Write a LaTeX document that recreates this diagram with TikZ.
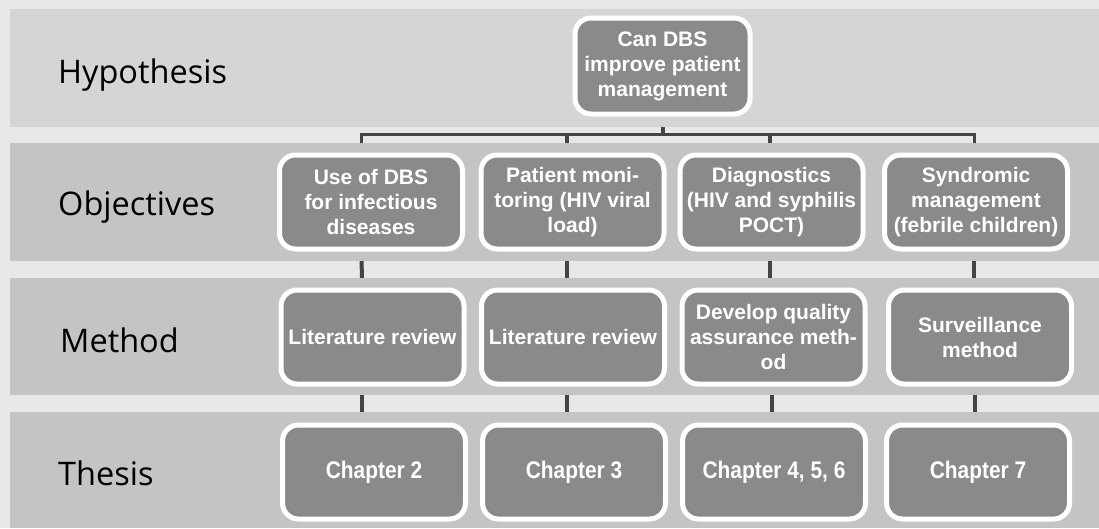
\documentclass[tikz,border=0pt]{standalone}
\usepackage{fontspec}
\setmainfont{Liberation Sans}
\newfontfamily\labelfont{Open Sans}
\newfontfamily\boxfont{Liberation Sans}
\newfontfamily\chapfont{Liberation Sans}[FakeStretch=0.87]
\definecolor{pagegray}{HTML}{E8E8E8}
\definecolor{hypband}{HTML}{D5D5D5}
\definecolor{bandgray}{HTML}{C4C4C4}
\definecolor{boxgray}{HTML}{8A8A8A}
\definecolor{linegray}{HTML}{444444}
\pgfdeclarelayer{pagebg}
\pgfdeclarelayer{lines}
\pgfdeclarelayer{bands}
\pgfsetlayers{pagebg,lines,bands,main}
\tikzset{
  box/.style={draw=white, line width=5pt, fill=boxgray, rounded corners=16pt,
    minimum width=183pt, minimum height=94pt, text=white, align=center, inner sep=2pt,
    font=\boxfont\bfseries\fontsize{21}{25}\selectfont},
  chapbox/.style={box, font=\chapfont\bfseries\fontsize{24}{28}\selectfont},
  lab/.style={anchor=base west, font=\labelfont\fontsize{32.5}{38}\selectfont, text=black},
  conn/.style={draw=linegray, line width=4pt},
}
\begin{document}
\begin{tikzpicture}[x=1pt,y=-1pt]
\useasboundingbox (0,0) rectangle (1099,528);
% labels
\node[lab, inner sep=0pt] (lh) at (58,83) {Hypothesis};
\node[lab, inner sep=0pt] (lo) at (58,215) {Objectives};
\node[lab, inner sep=0pt] (lm) at (60,352) {Method};
\node[lab, inner sep=0pt] (lt) at (58,485) {Thesis};
% hypothesis
\node[box, minimum width=175pt, minimum height=96pt] (h) at (662.5,66) {Can DBS\\improve patient\\management};
% objectives
\node[box] (o1) at (371,202) {Use of DBS\\for infectious\\diseases};
\node[box] (o2) at (572.5,202) {Patient moni-\\toring (HIV viral\\load)};
\node[box] (o3) at (771.5,202) {Diagnostics\\(HIV and syphilis\\POCT)};
\node[box] (o4) at (976,202) {Syndromic\\management\\(febrile children)};
% methods
\node[box] (m1) at (372.5,337) {Literature review};
\node[box] (m2) at (573,337) {Literature review};
\node[box] (m3) at (773.5,337) {Develop quality\\assurance meth-\\od};
\node[box] (m4) at (980,337) {Surveillance\\method};
% thesis
\node[chapbox] (t1) at (374,472) {Chapter 2};
\node[chapbox] (t2) at (574,472) {Chapter 3};
\node[chapbox] (t3) at (774,472) {Chapter 4, 5, 6};
\node[chapbox] (t4) at (978,472) {Chapter 7};
\coordinate (bar) at (0,134);
\begin{pgfonlayer}{pagebg}
\fill[pagegray] (0,0) rectangle (1099,528);
\end{pgfonlayer}
\begin{pgfonlayer}{bands}
\fill[hypband] (10,9) rectangle (1099,127);
\fill[bandgray] (10,143) rectangle (1099,261);
\fill[bandgray] (10,278) rectangle (1099,395);
\fill[bandgray] (10,412) rectangle (1099,528);
\end{pgfonlayer}
\begin{pgfonlayer}{lines}
\draw[conn] (h.center) -- (h.center |- bar);
\draw[conn, line width=3pt] ([xshift=-10pt]o1.center) -- ([xshift=-10pt]o1.center |- bar) -| ([xshift=-2pt]o4.center);
\draw[conn] ([xshift=-6pt]o2.center |- bar) -- ([xshift=-6pt]o2.center);
\draw[conn] ([xshift=-2pt]o3.center |- bar) -- ([xshift=-2pt]o3.center);
\draw[conn] ([xshift=-10pt]o1.center) -- ([xshift=-10pt]m1.center);
\draw[conn] ([xshift=-6pt]o2.center) -- ([xshift=-6pt]o2.center |- m2.center);
\draw[conn] ([xshift=-2pt]o3.center) -- ([xshift=-2pt]o3.center |- m3.center);
\draw[conn] ([xshift=-2pt]o4.center) -- ([xshift=-2pt]o4.center |- m4.center);
\draw[conn] ([xshift=-11pt]m1.center) -- ([xshift=-11pt]m1.center |- t1.center);
\draw[conn] ([xshift=-6pt]m2.center) -- ([xshift=-6pt]m2.center |- t2.center);
\draw[conn] ([xshift=-2pt]m3.center) -- ([xshift=-2pt]m3.center |- t3.center);
\draw[conn] ([xshift=-5pt]m4.center) -- ([xshift=-5pt]m4.center |- t4.center);
\end{pgfonlayer}
\end{tikzpicture}
\end{document}
